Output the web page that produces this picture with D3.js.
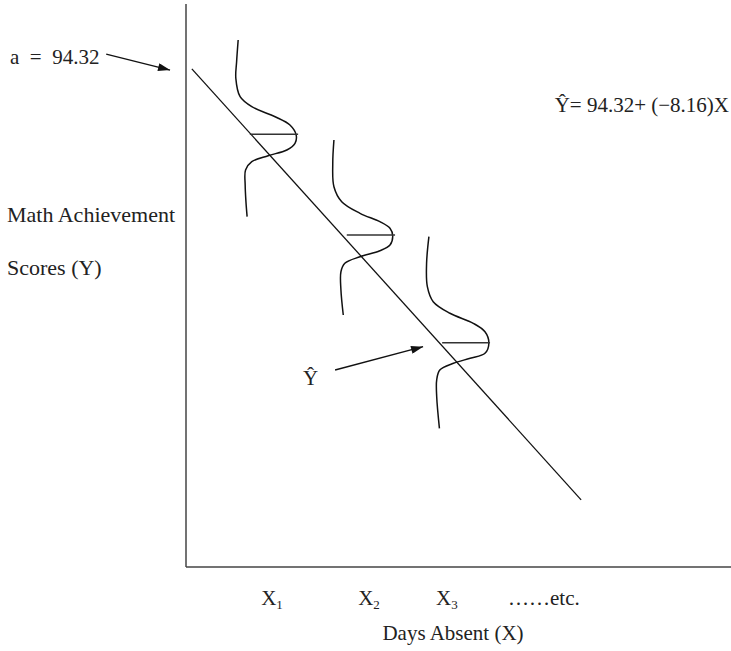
<!DOCTYPE html>
<html>
<head>
<meta charset="utf-8">
<script src="https://cdn.jsdelivr.net/npm/d3@7"></script>
<style>
  body { margin: 0; background: #fff; }
  text { font-family: "Liberation Serif", "Times New Roman", serif; fill: #222; }
</style>
</head>
<body>
<svg width="731" height="651"></svg>
<script>
// regression: Y = a + b X
var intercept = 94.32;
var slope = -8.16;
var lineX = [0, 10];

// conditional distributions of Y at three values of X (X, Y pairs)
var curve1 = [[1.19, 99.78], [1.15, 95.67], [1.13, 92.53], [1.24, 89.05], [1.54, 87.15], [2.14, 85.26], [2.52, 83.69], [2.68, 81.80],
  [2.65, 80.23], [2.44, 78.96], [1.96, 77.88], [1.54, 76.74], [1.38, 75.17], [1.37, 72.33], [1.39, 69.17], [1.42, 66.33]];
var curve2 = [[3.65, 80.85], [3.62, 76.44], [3.65, 72.01], [3.85, 69.17], [4.32, 66.97], [4.83, 65.38], [5.09, 64.13], [5.16, 62.67],
  [5.09, 60.97], [4.83, 59.89], [4.32, 58.75], [3.93, 57.50], [3.83, 55.91], [3.83, 52.45], [3.89, 47.71]];
var curve3 = [[6.09, 62.54], [6.03, 57.50], [6.05, 53.07], [6.20, 50.23], [6.63, 48.04], [7.23, 46.14], [7.53, 44.55], [7.63, 42.47],
  [7.53, 40.46], [7.15, 39.52], [6.72, 38.57], [6.37, 37.30], [6.29, 35.41], [6.29, 32.25], [6.36, 26.26]];
var curves = [curve1, curve2, curve3];

// horizontal marks at each conditional mean
var meanY = [81.93, 62.86, 42.47];
var meanStartX = [1.49, 3.98, 6.43];
var meanEndX = [2.73, 5.22, 7.66];

// labels under the x axis
var tickLabels = ['1', '2', '3'];
var tickX = [2.06, 4.55, 6.55];

var svg = d3.select('svg');

var x = d3.scaleLinear().domain([-0.15, 13.85]).range([186, 731]);
var y = d3.scaleLinear().domain([0, 106.6]).range([567, 4]);

svg.append('defs').append('marker')
  .attr('id', 'arrow')
  .attr('viewBox', '0 0 12 8')
  .attr('refX', 12)
  .attr('refY', 4)
  .attr('markerWidth', 13)
  .attr('markerHeight', 8)
  .attr('markerUnits', 'userSpaceOnUse')
  .attr('orient', 'auto')
  .append('path')
  .attr('d', 'M0,0L12,4L0,8Z')
  .style('fill', '#111');

// axes (plain lines, no ticks)
svg.append('line')
  .attr('x1', x(-0.15)).attr('x2', x(-0.15))
  .attr('y1', y(106.6)).attr('y2', y(0))
  .style('stroke', '#444').style('stroke-width', 1.5);
svg.append('line')
  .attr('x1', x(-0.15)).attr('x2', x(13.85))
  .attr('y1', y(0)).attr('y2', y(0))
  .style('stroke', '#444').style('stroke-width', 1.5);

// regression line
svg.append('line')
  .attr('x1', x(lineX[0])).attr('y1', y(intercept + slope * lineX[0]))
  .attr('x2', x(lineX[1])).attr('y2', y(intercept + slope * lineX[1]))
  .style('stroke', '#111').style('stroke-width', 1.3);

// sideways normal curves
var curveLine = d3.line()
  .x(function(d) { return x(d[0]); })
  .y(function(d) { return y(d[1]); })
  .curve(d3.curveCatmullRom.alpha(0.5));

svg.selectAll('.dist')
  .data(curves)
  .enter().append('path')
  .attr('class', 'dist')
  .attr('d', curveLine)
  .style('fill', 'none')
  .style('stroke', '#111')
  .style('stroke-width', 1.5);

svg.selectAll('.mean')
  .data(meanY)
  .enter().append('line')
  .attr('class', 'mean')
  .attr('x1', function(d, i) { return x(meanStartX[i]); })
  .attr('x2', function(d, i) { return x(meanEndX[i]); })
  .attr('y1', function(d) { return y(d); })
  .attr('y2', function(d) { return y(d); })
  .style('stroke', '#333')
  .style('stroke-width', 1.5);

// annotations
svg.append('text')
  .attr('x', 10).attr('y', 64)
  .style('font-size', '21px')
  .text('a\u2002=\u200294.32');
svg.append('line')
  .attr('x1', x(-2.2)).attr('y1', y(97.13))
  .attr('x2', x(-0.56)).attr('y2', y(94.1))
  .style('stroke', '#111').style('stroke-width', 1.3)
  .attr('marker-end', 'url(#arrow)');

svg.append('text')
  .attr('x', 729).attr('y', 112)
  .style('font-size', '21px')
  .style('text-anchor', 'end')
  .text('Ŷ= 94.32+ (−8.16)X');

svg.append('text')
  .attr('x', 303).attr('y', 385)
  .style('font-size', '21px')
  .text('Ŷ');
svg.append('line')
  .attr('x1', x(3.68)).attr('y1', y(37.3))
  .attr('x2', x(5.94)).attr('y2', y(41.71))
  .style('stroke', '#111').style('stroke-width', 1.3)
  .attr('marker-end', 'url(#arrow)');

// y axis title
svg.append('text')
  .attr('x', 7).attr('y', 222)
  .style('font-size', '22px')
  .text('Math Achievement');
svg.append('text')
  .attr('x', 7).attr('y', 275)
  .style('font-size', '22px')
  .text('Scores (Y)');

// x labels
var xl = svg.selectAll('.xlab')
  .data(tickLabels)
  .enter().append('text')
  .attr('class', 'xlab')
  .attr('x', function(d, i) { return x(tickX[i]); })
  .attr('y', 605)
  .style('font-size', '21px')
  .style('text-anchor', 'middle');
xl.append('tspan').text('X');
xl.append('tspan').attr('dy', 4).style('font-size', '13px').text(function(d) { return d; });

svg.append('text')
  .attr('x', 508).attr('y', 605)
  .style('font-size', '21px')
  .text('……etc.');

svg.append('text')
  .attr('x', 453).attr('y', 640)
  .style('font-size', '21px')
  .style('text-anchor', 'middle')
  .text('Days Absent (X)');
</script>
</body>
</html>
